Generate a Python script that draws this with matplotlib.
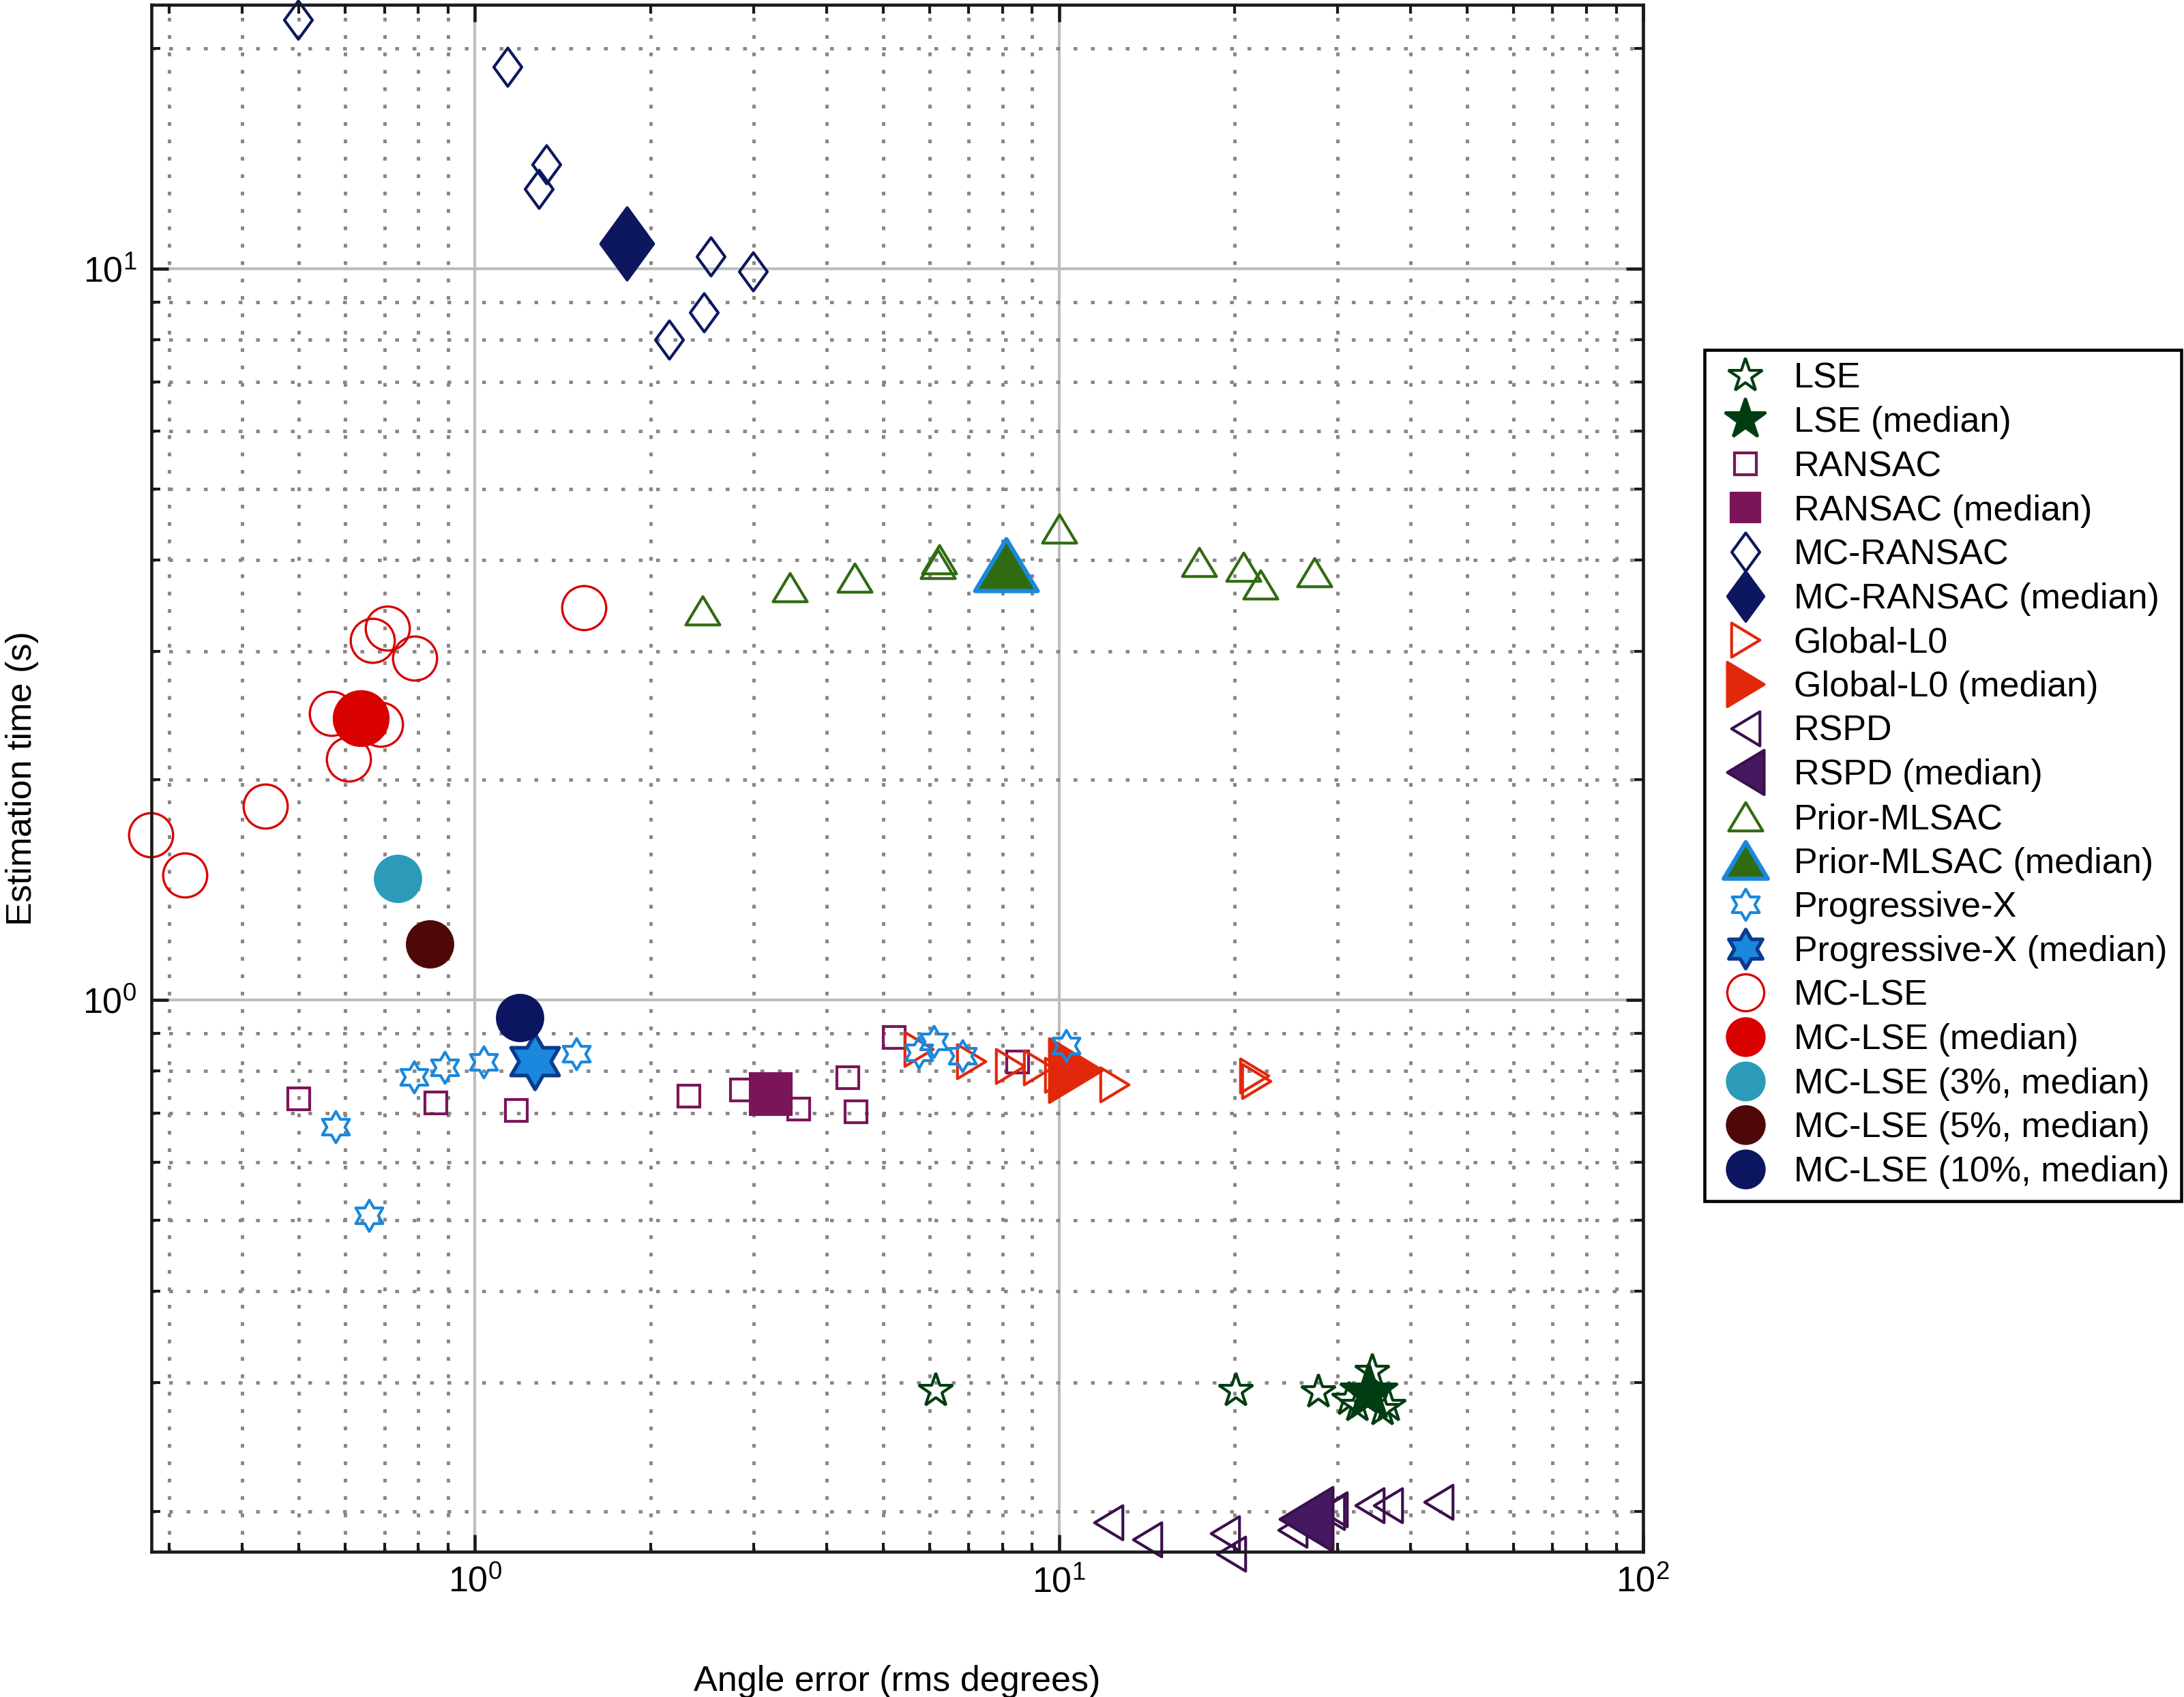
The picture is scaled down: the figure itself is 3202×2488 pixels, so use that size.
import numpy as np
import matplotlib
matplotlib.use("Agg")
import matplotlib.pyplot as plt
from matplotlib.path import Path
from matplotlib.ticker import LogLocator, NullFormatter

plt.rcParams['font.family'] = ['Liberation Sans', 'DejaVu Sans']
plt.rcParams['mathtext.fontset'] = 'custom'
plt.rcParams['mathtext.rm'] = 'Liberation Sans'
plt.rcParams['mathtext.it'] = 'Liberation Sans:italic'
plt.rcParams['mathtext.bf'] = 'Liberation Sans:bold'

# ---- data (angle error [deg rms], estimation time [s]) ----
lse_x = [6.16, 20.1, 27.8, 31.4, 32.4, 34.4, 35.8, 36.7]
lse_y = [0.292, 0.292, 0.291, 0.284, 0.279, 0.310, 0.275, 0.279]
lse_med = (33.9, 0.290)

ransac_x = [0.500, 0.857, 1.179, 2.325, 2.857, 3.58, 4.35, 4.49, 5.23, 8.49]
ransac_y = [0.732, 0.723, 0.707, 0.739, 0.753, 0.709, 0.783, 0.704, 0.888, 0.822]
ransac_med = (3.21, 0.743)

mcransac_x = [0.498, 1.137, 1.325, 1.286, 2.534, 2.993, 2.47, 2.152]
mcransac_y = [21.9, 18.9, 13.9, 12.85, 10.4, 9.92, 8.71, 8.0]
mcransac_med = (1.822, 10.82)

gl0_x = [5.75, 7.07, 8.25, 9.22, 10.0, 12.46, 21.6, 21.76]
gl0_y = [0.857, 0.824, 0.812, 0.809, 0.79, 0.766, 0.789, 0.775]
gl0_med = (10.69, 0.802)

rspd_x = [12.15, 14.18, 19.23, 19.71, 25.1, 29.1, 29.4, 34.0, 36.6, 44.7]
rspd_y = [0.193, 0.183, 0.1864, 0.175, 0.1885, 0.1995, 0.201, 0.2035, 0.2035, 0.206]
rspd_med = (26.5, 0.1953)

prior_x = [2.453, 3.458, 4.474, 6.23, 6.20, 10.0, 17.36, 20.72, 22.15, 27.39]
prior_y = [3.41, 3.67, 3.78, 4.005, 3.945, 4.41, 3.97, 3.91, 3.70, 3.85]
prior_med = (8.12, 3.94)

progx_x = [0.578, 0.658, 0.786, 0.887, 1.035, 1.494, 5.75, 6.11, 6.83, 10.28]
progx_y = [0.671, 0.5075, 0.784, 0.809, 0.822, 0.844, 0.847, 0.878, 0.838, 0.866]
progx_med = (1.267, 0.824)

mclse_x = [0.7084, 0.668, 0.788, 1.535, 0.568, 0.690, 0.6085, 0.4382, 0.279, 0.3187]
mclse_y = [3.228, 3.10, 2.933, 3.436, 2.465, 2.382, 2.137, 1.842, 1.682, 1.481]
mclse_med = (0.6375, 2.427)
mclse3_med = (0.7375, 1.466)
mclse5_med = (0.838, 1.193)
mclse10_med = (1.193, 0.9455)

# ---- marker shapes (matlab-like) ----
def closed(verts):
    verts = list(verts) + [verts[0]]
    return Path(verts, closed=True)

diamond = closed([(0, 1), (0.73, 0), (0, -1), (-0.73, 0)])
tri_up = closed([(0, 0.83), (1, -0.83), (-1, -0.83)])
tri_right = closed([(0.83, 0), (-0.83, -1), (-0.83, 1)])
tri_left = closed([(-0.83, 0), (0.83, 1), (0.83, -1)])
hexagram = Path.unit_regular_star(6, 0.577)

c_lse = '#013d12'
c_ransac = '#7b1559'
c_mcr = '#0c1760'
c_gl0 = '#e2280a'
c_rspd = '#3c0f4e'
c_rspd_fill = '#45195f'
c_prior = '#306b12'
c_progx = '#1a88dd'
c_mclse = '#d90000'

fig = plt.figure(figsize=(3202 / 300, 2488 / 300), dpi=300)
ax = fig.add_axes([0.0692, 0.0856, 0.6831, 0.9117])

legend_ms = []

def pts(x, y, label, marker, ms, color, mew=1.0, lms=None):
    ax.plot(x, y, ls='none', marker=marker, ms=ms, mfc='none', mec=color,
            mew=mew, clip_on=False, label=label)
    legend_ms.append(lms if lms else ms)

def med(p, label, marker, ms, fill, edge=None, mew=1.0, lms=None):
    ax.plot([p[0]], [p[1]], ls='none', marker=marker, ms=ms, mfc=fill,
            mec=edge if edge else fill, mew=mew, clip_on=False, label=label)
    legend_ms.append(lms if lms else ms)

pts(lse_x, lse_y, 'LSE', '*', 12.5, c_lse)
med(lse_med, 'LSE (median)', '*', 21, c_lse, lms=15)
pts(ransac_x, ransac_y, 'RANSAC', 's', 7.5, c_ransac)
med(ransac_med, 'RANSAC (median)', 's', 14.5, c_ransac, lms=10)
pts(mcransac_x, mcransac_y, 'MC-RANSAC', diamond, 13.5, c_mcr)
med(mcransac_med, 'MC-RANSAC (median)', diamond, 25.5, c_mcr, lms=17.5)
pts(gl0_x, gl0_y, 'Global-L0', tri_right, 12, c_gl0)
med(gl0_med, 'Global-L0 (median)', tri_right, 22.5, c_gl0, lms=15.6)
pts(rspd_x, rspd_y, 'RSPD', tri_left, 12, c_rspd)
med(rspd_med, 'RSPD (median)', tri_left, 22.5, c_rspd_fill, c_rspd, lms=15.6)
pts(prior_x, prior_y, 'Prior-MLSAC', tri_up, 12, c_prior)
med(prior_med, 'Prior-MLSAC (median)', tri_up, 22, c_prior, c_progx, mew=1.5, lms=15.5)
pts(progx_x, progx_y, 'Progressive-X', hexagram, 11, c_progx)
med(progx_med, 'Progressive-X (median)', hexagram, 19.5, c_progx, '#0b3a8f', mew=1.3, lms=13.7)
pts(mclse_x, mclse_y, 'MC-LSE', 'o', 15.5, c_mclse, mew=0.8, lms=13)
med(mclse_med, 'MC-LSE (median)', 'o', 19, c_mclse, lms=13)
med(mclse3_med, 'MC-LSE (3%, median)', 'o', 16, '#2b9bb9', lms=13)
med(mclse5_med, 'MC-LSE (5%, median)', 'o', 16, '#4e0808', lms=13)
med(mclse10_med, 'MC-LSE (10%, median)', 'o', 16, '#0c1660', lms=13)

ax.set_xscale('log')
ax.set_yscale('log')
ax.set_xlim(0.2791, 100)
ax.set_ylim(0.176, 22.98)

ax.xaxis.set_minor_locator(LogLocator(base=10, subs=np.arange(2, 10)))
ax.yaxis.set_minor_locator(LogLocator(base=10, subs=np.arange(2, 10)))
ax.xaxis.set_minor_formatter(NullFormatter())
ax.yaxis.set_minor_formatter(NullFormatter())

ax.set_axisbelow(True)
ax.grid(True, which='major', color='#bdbdbd', lw=1.0, ls='-')
ax.grid(True, which='minor', color='#888888', lw=1.2, ls=(0, (1.1, 4.0)))

for s in ax.spines.values():
    s.set_linewidth(1.1)
    s.set_color('#1a1a1a')
ax.tick_params(which='both', direction='in', top=True, right=True,
               color='#1a1a1a', labelsize=12.5)
ax.tick_params(which='major', length=6, width=1.1, pad=5)
ax.tick_params(which='minor', length=3.2, width=1.0)

ax.set_xlabel('Angle error (rms degrees)', fontsize=12.5, labelpad=23)
ax.set_ylabel('Estimation time (s)', fontsize=12.5, labelpad=15.5)

leg = ax.legend(loc='upper left', bbox_to_anchor=(0.7806, 0.794),
                bbox_transform=fig.transFigure, borderaxespad=0,
                fontsize=12.5, frameon=True, fancybox=False, framealpha=1,
                edgecolor='black', numpoints=1, handlelength=1.6,
                handletextpad=0.55, labelspacing=0.30, borderpad=0.35)
leg.get_frame().set_linewidth(1.1)
for h, ms in zip(leg.legend_handles, legend_ms):
    h.set_markersize(ms)

fig.savefig('out.png', dpi=300)
